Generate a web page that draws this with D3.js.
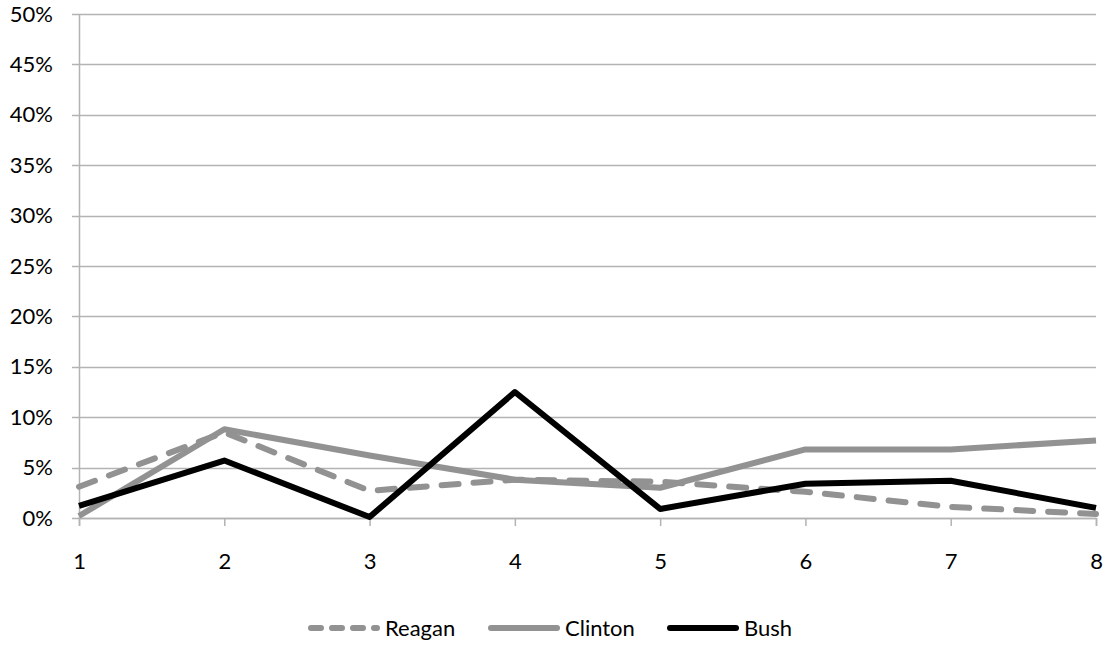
<!DOCTYPE html>
<html>
<head>
<meta charset="utf-8">
<script src="https://cdn.jsdelivr.net/npm/d3@7"></script>
<style>
  html, body { margin: 0; padding: 0; background: #fff; }
  svg text { font-family: Lato, "Open Sans", sans-serif; fill: #000; }
</style>
</head>
<body>
<svg id="chart" width="1105" height="645"></svg>
<script>
// Periods along the x axis
const periods = [1, 2, 3, 4, 5, 6, 7, 8];
// Share per period, in percent
const reagan  = [3.1, 8.5, 2.7, 3.8, 3.6, 2.6, 1.1, 0.4];
const clinton = [0.2, 8.8, 6.2, 3.8, 3.0, 6.8, 6.8, 7.7];
const bush    = [1.2, 5.7, 0.1, 12.5, 0.9, 3.4, 3.7, 1.0];
// Y axis tick values (percent)
const yTicks = [0, 5, 10, 15, 20, 25, 30, 35, 40, 45, 50];

const series = [
  { name: "Reagan",  values: reagan,  color: "#929292", dash: "17,15" },
  { name: "Clinton", values: clinton, color: "#929292", dash: null },
  { name: "Bush",    values: bush,    color: "#000000", dash: null }
];

const svg = d3.select("#chart");
const plotLeft = 79, plotRight = 1096, plotTop = 14, plotBottom = 518;
const fontSize = 22;

const x = d3.scaleLinear().domain([1, 8]).range([plotLeft, plotRight]);
const y = d3.scaleLinear().domain([0, 50]).range([plotBottom, plotTop]);

const gridColor = "#b3b3b3";

// Horizontal gridlines
svg.append("g")
  .selectAll("line")
  .data(yTicks)
  .join("line")
  .attr("x1", plotLeft - 7).attr("x2", plotRight)
  .attr("y1", d => Math.round(y(d)) + 0.5)
  .attr("y2", d => Math.round(y(d)) + 0.5)
  .attr("stroke", gridColor)
  .attr("stroke-width", 1.5);

// Y axis
const yAxis = svg.append("g")
  .attr("transform", `translate(${plotLeft},0)`)
  .call(d3.axisLeft(y).tickValues(yTicks).tickFormat(d => d + "%").tickSize(0).tickPadding(26));
yAxis.select(".domain").attr("stroke", gridColor).attr("stroke-width", 1.5);
yAxis.selectAll("text").attr("font-size", fontSize).style("font-family", "Lato, sans-serif");

// X axis
const xAxis = svg.append("g")
  .attr("transform", `translate(0,${plotBottom})`)
  .call(d3.axisBottom(x).tickValues(periods).tickFormat(d3.format("d")).tickSize(8).tickPadding(27));
xAxis.select(".domain").attr("stroke", gridColor).attr("stroke-width", 1.5);
xAxis.selectAll(".tick line").attr("stroke", gridColor).attr("stroke-width", 1.5);
xAxis.selectAll("text").attr("font-size", fontSize).style("font-family", "Lato, sans-serif");

// Series lines
const line = d3.line()
  .x((d, i) => x(periods[i]))
  .y(d => y(d));

svg.append("g")
  .selectAll("path")
  .data(series)
  .join("path")
  .attr("d", d => line(d.values))
  .attr("fill", "none")
  .attr("stroke", d => d.color)
  .attr("stroke-width", 6)
  .attr("stroke-linejoin", "round")
  .attr("stroke-linecap", d => d.dash ? "round" : "butt")
  .attr("stroke-dasharray", d => d.dash);

// Legend
const legendX = [309, 489, 668];
const legendY = 628;
const legend = svg.append("g")
  .selectAll("g")
  .data(series)
  .join("g")
  .attr("transform", (d, i) => `translate(${legendX[i]},${legendY})`);

legend.append("line")
  .attr("x1", 2).attr("x2", 68)
  .attr("y1", 0).attr("y2", 0)
  .attr("stroke", d => d.color)
  .attr("stroke-width", 6)
  .attr("stroke-linecap", "round")
  .attr("stroke-dasharray", d => d.dash ? "10,11" : null);

legend.append("text")
  .attr("x", 76)
  .attr("y", 0)
  .attr("dy", "0.36em")
  .attr("font-size", fontSize)
  .text(d => d.name);
</script>
</body>
</html>
